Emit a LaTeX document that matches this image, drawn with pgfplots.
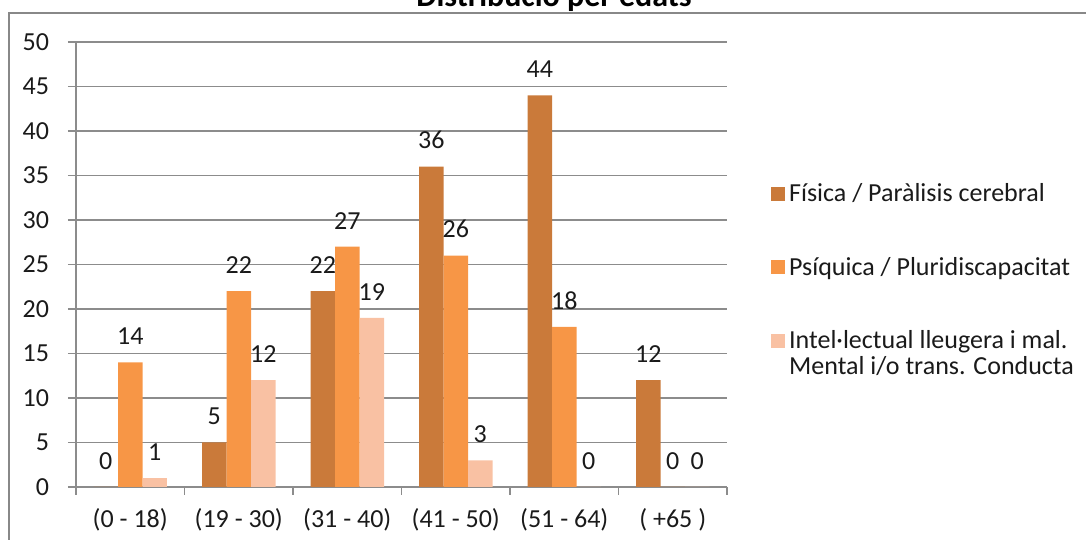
\documentclass[border=0pt]{standalone}
\usepackage{fontspec}
\setmainfont{Carlito}
\usepackage{pgfplots}
\pgfplotsset{compat=1.18}
\definecolor{c1}{HTML}{CA7A3A}
\definecolor{c2}{HTML}{F79646}
\definecolor{c3}{HTML}{F9C1A3}
\definecolor{gridc}{HTML}{8C8C8C}
\definecolor{framec}{HTML}{888888}
\definecolor{txt}{HTML}{1A1A1A}
\pgfplotsset{myleg/.style={legend image code/.code={\fill[##1] (0pt,-3.5pt) rectangle (7pt,3.5pt);}},
  mylegup/.style={legend image code/.code={\fill[##1] (0pt,3pt) rectangle (7pt,10pt);}}}
\begin{document}
\begin{tikzpicture}
\useasboundingbox (0,0) rectangle (543pt,270pt);
\clip (0,0) rectangle (543pt,270pt);
\draw[framec, line width=1pt] (4.5pt,-5pt) -- (4.5pt,263.25pt) -- (560pt,263.25pt);
\node[font=\bfseries\fontsize{16}{18}\selectfont, anchor=base, inner sep=0pt] at (277pt,266.5pt) {Distribució per edats};
\begin{axis}[
  at={(38pt,26.5pt)}, anchor=south west,
  scale only axis, width=325.5pt, height=222.5pt,
  xmin=-0.5, xmax=5.5, ymin=0, ymax=50,
  ytick={0,5,...,50},
  axis x line*=bottom, axis y line*=left,
  axis line style={gridc, line width=0.75pt},
  ymajorgrids, grid style={gridc, line width=0.75pt},
  tick style={gridc, line width=0.75pt},
  tick align=outside, major tick length=4pt,
  xtick={-0.5,0.5,...,5.5}, xticklabels={},
  extra x ticks={0,1,2,3,4,5},
  extra x tick labels={(0 - 18),(19 - 30),(31 - 40),(41 - 50),(51 - 64),( +65 )},
  extra x tick style={major tick length=0pt, grid=none, xticklabel style={yshift=-7pt}},
  /pgf/number format/assume math mode=true,
  tick label style={font=\fontsize{13}{15}\selectfont, text=txt},
  yticklabel style={xshift=-6pt},
  ybar=0pt, bar width=0.2258,
  nodes near coords,
  every node near coord/.append style={font=\fontsize{13}{15}\selectfont, text=txt, yshift=5.2pt},
  legend style={at={(axis description cs:1.058,0.70)}, anchor=north west, draw=none, fill=none,
    font=\fontsize{13}{13}\selectfont, text=txt, row sep=22pt, cells={anchor=west, align=left}},
]
\addplot[fill=c1, draw=none, bar shift=-0.2258, myleg] coordinates {(0,0) (1,5) (2,22) (3,36) (4,44) (5,12)};
\addplot[fill=c2, draw=none, bar shift=0, myleg] coordinates {(0,14) (1,22) (2,27) (3,26) (4,18) (5,0)};
\addplot[fill=c3, draw=none, bar shift=0.2258, mylegup] coordinates {(0,1) (1,12) (2,19) (3,3) (4,0) (5,0)};
\legend{Física / Paràlisis cerebral, Psíquica / Pluridiscapacitat, {Intel·lectual lleugera i mal.\\Mental i/o trans. Conducta}}
\end{axis}
\end{tikzpicture}
\end{document}
